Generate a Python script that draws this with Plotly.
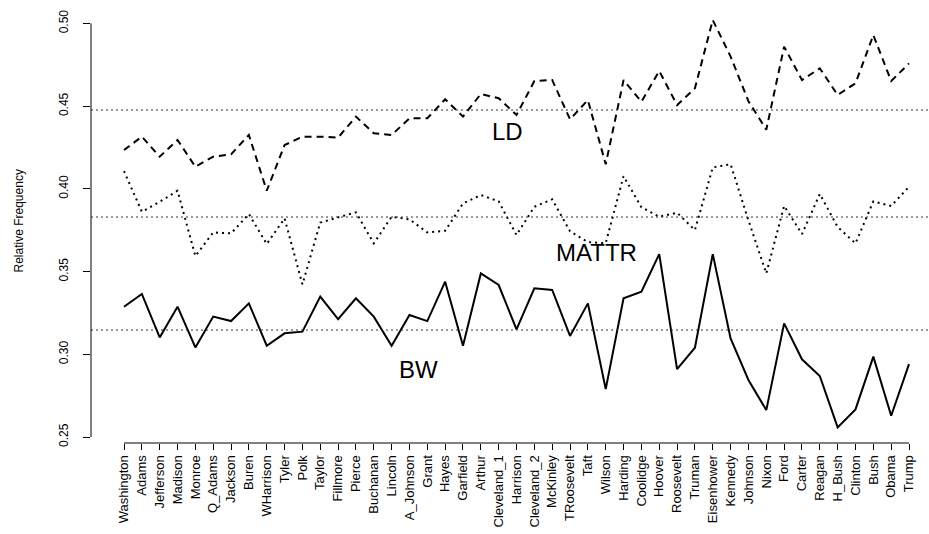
import plotly.graph_objects as go

presidents = ["Washington", "Adams", "Jefferson", "Madison", "Monroe", "Q_Adams", "Jackson", "Buren",
              "WHarrison", "Tyler", "Polk", "Taylor", "Fillmore", "Pierce", "Buchanan", "Lincoln",
              "A_Johnson", "Grant", "Hayes", "Garfield", "Arthur", "Cleveland_1", "Harrison",
              "Cleveland_2", "McKinley", "TRoosevelt", "Taft", "Wilson", "Harding", "Coolidge",
              "Hoover", "Roosevelt", "Truman", "Eisenhower", "Kennedy", "Johnson", "Nixon", "Ford",
              "Carter", "Reagan", "H_Bush", "Clinton", "Bush", "Obama", "Trump"]

ld = [0.4235, 0.4316, 0.4195, 0.4296, 0.4134, 0.4195, 0.4209, 0.4326, 0.3989, 0.4265, 0.4316,
      0.4316, 0.4310, 0.4437, 0.4336, 0.4326, 0.4427, 0.4427, 0.4542, 0.4437, 0.4574, 0.4548,
      0.4447, 0.4652, 0.4658, 0.4421, 0.4537, 0.4149, 0.4658, 0.4527, 0.4713, 0.4507, 0.4608,
      0.5021, 0.4800, 0.4530, 0.4358, 0.4860, 0.4658, 0.4729, 0.4568, 0.4638, 0.4930, 0.4652,
      0.4759]

mattr = [0.4108, 0.3862, 0.3922, 0.3989, 0.3594, 0.3737, 0.3731, 0.3848, 0.3667, 0.3822, 0.3423,
         0.3796, 0.3828, 0.3858, 0.3671, 0.3832, 0.3816, 0.3737, 0.3747, 0.3912, 0.3963, 0.3925,
         0.3721, 0.3892, 0.3937, 0.3744, 0.3678, 0.3672, 0.4077, 0.3889, 0.3832, 0.3856, 0.3751,
         0.4130, 0.4149, 0.3810, 0.3489, 0.3897, 0.3727, 0.3969, 0.3770, 0.3671, 0.3925, 0.3897,
         0.4013]

bw = [0.3288, 0.3365, 0.3102, 0.3288, 0.3042, 0.3228, 0.3201, 0.3308, 0.3052, 0.3127, 0.3137,
      0.3349, 0.3213, 0.3339, 0.3228, 0.3052, 0.3238, 0.3201, 0.3439, 0.3052, 0.3489, 0.3419,
      0.3151, 0.3399, 0.3389, 0.3111, 0.3308, 0.2790, 0.3339, 0.3379, 0.3606, 0.2911, 0.3040,
      0.3606, 0.3096, 0.2845, 0.2663, 0.3187, 0.2970, 0.2869, 0.2558, 0.2667, 0.2986, 0.2629,
      0.2941]

ref_levels = [0.4477, 0.3830, 0.3147]

labels = ["LD", "MATTR", "BW"]
label_x = [22.47, 27.5, 17.48]
label_y = [0.4350, 0.3618, 0.2910]

y_ticks = [0.25, 0.30, 0.35, 0.40, 0.45, 0.50]
y_ticktext = ["0.25", "0.30", "0.35", "0.40", "0.45", "0.50"]

idx = list(range(1, len(presidents) + 1))
FONT = "Liberation Sans, Arial, sans-serif"

fig = go.Figure()
fig.add_trace(go.Scatter(x=idx, y=ld, mode="lines",
                         line=dict(color="black", width=2, dash="7px,5px"), showlegend=False))
fig.add_trace(go.Scatter(x=idx, y=mattr, mode="lines",
                         line=dict(color="black", width=2, dash="2px,4px"), showlegend=False))
fig.add_trace(go.Scatter(x=idx, y=bw, mode="lines",
                         line=dict(color="black", width=2), showlegend=False))

for lv in ref_levels:
    fig.add_shape(type="line", xref="paper", x0=0, x1=1, yref="y", y0=lv, y1=lv,
                  line=dict(color="#333333", width=1, dash="2px,3px"))

for t, xx, yy in zip(labels, label_x, label_y):
    fig.add_annotation(x=xx, y=yy, text=t, showarrow=False,
                       font=dict(family=FONT, size=24, color="black"))

# R-style axis lines spanning only the tick range
fig.add_shape(type="line", xref="paper", x0=0, x1=0, yref="y", y0=y_ticks[0], y1=y_ticks[-1],
              line=dict(color="black", width=1))
fig.add_shape(type="line", xref="x", x0=idx[0], x1=idx[-1], yref="paper", y0=0, y1=0,
              line=dict(color="black", width=1))

fig.add_annotation(xref="paper", yref="paper", x=(18 - 91) / 838, y=0.5, text="Relative Frequency",
                   textangle=-90, showarrow=False, xanchor="center", yanchor="middle",
                   font=dict(family=FONT, size=12, color="black"))

fig.update_layout(
    width=929, height=534,
    margin=dict(l=91, r=0, t=0, b=91),
    paper_bgcolor="white", plot_bgcolor="white",
    font=dict(family=FONT, color="black"),
    xaxis=dict(range=[-0.85, 46.12], tickmode="array", tickvals=idx, ticktext=presidents,
               tickangle=-90, ticks="outside", ticklen=6, tickcolor="black", tickwidth=1,
               showgrid=False, zeroline=False, showline=False, automargin=False,
               tickfont=dict(size=13, family=FONT, color="black")),
    yaxis=dict(range=[0.2464, 0.5142], tickmode="array", tickvals=y_ticks, ticktext=y_ticktext,
               tickangle=-90, ticks="outside", ticklen=7, tickcolor="black", tickwidth=1,
               showgrid=False, zeroline=False, showline=False, ticklabelstandoff=10, automargin=False,
               tickfont=dict(size=12, family=FONT, color="black")),
)

fig.write_html("out.html", config={"displayModeBar": False},
               post_script="document.body.style.margin='0';document.body.style.padding='0';")
